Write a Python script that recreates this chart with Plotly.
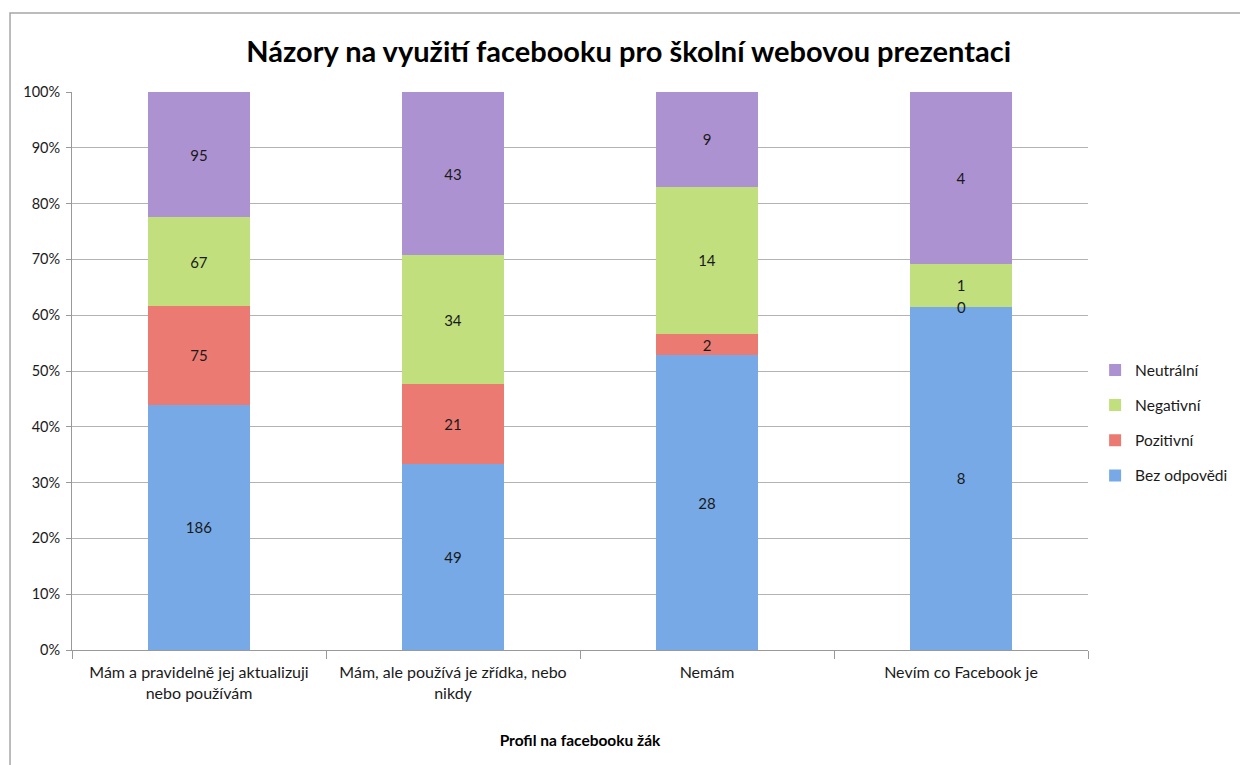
import plotly.graph_objects as go

categories = [
    "Mám a pravidelně jej aktualizuji<br>nebo používám",
    "Mám, ale používá je zřídka, nebo<br>nikdy",
    "Nemám",
    "Nevím co Facebook je",
]
series_names = ["Bez odpovědi", "Pozitivní", "Negativní", "Neutrální"]
bez_odpovedi = [186, 49, 28, 8]
pozitivni = [75, 21, 2, 0]
negativni = [67, 34, 14, 1]
neutralni = [95, 43, 9, 4]
y_tick_vals = [0, 10, 20, 30, 40, 50, 60, 70, 80, 90, 100]
y_tick_text = ["0%", "10%", "20%", "30%", "40%", "50%", "60%", "70%", "80%", "90%", "100%"]

series_values = [bez_odpovedi, pozitivni, negativni, neutralni]
colors = ["#76a9e6", "#eb7a73", "#c2df7e", "#ad92d1"]
FONT = "Lato"

fig = go.Figure()
n = len(series_names)
for k, (name, vals, col) in enumerate(zip(series_names, series_values, colors)):
    fig.add_trace(go.Bar(
        name=name,
        x=categories,
        y=vals,
        text=[str(v) if v != 0 else "" for v in vals],
        texttemplate="%{text}",
        textposition="inside",
        insidetextanchor="middle",
        constraintext="none",
        textangle=0,
        textfont=dict(family=FONT, size=15, color="#1a1a1a"),
        marker=dict(color=col, line=dict(width=0)),
        width=0.4,
        legendgroup=name,
        legendrank=n - k,
        hoverinfo="skip",
    ))

# labels for zero-valued segments (no visible bar)
annotations = []
totals = [sum(s[i] for s in series_values) for i in range(len(categories))]
for i, cat in enumerate(categories):
    cum = 0
    for vals in series_values:
        if vals[i] == 0:
            annotations.append(dict(
                x=cat, y=cum / totals[i] * 100, xref="x", yref="y",
                text="0", showarrow=False,
                font=dict(family=FONT, size=15, color="#1a1a1a"),
            ))
        cum += vals[i]

# outer chart frame
fig.add_shape(type="rect", xref="paper", yref="paper",
              x0=-0.061, x1=1.2, y0=-0.3, y1=1.1416,
              line=dict(color="#a6a6a6", width=1.5), layer="below")

fig.update_layout(
    barmode="stack",
    barnorm="percent",
    width=1240,
    height=765,
    paper_bgcolor="white",
    plot_bgcolor="white",
    margin=dict(l=72, r=152, t=92, b=115, autoexpand=False),
    font=dict(family=FONT, color="#1a1a1a"),
    title=dict(
        text="<b>Názory na využití facebooku pro školní webovou prezentaci</b>",
        x=0.507, xanchor="center", xref="container",
        y=0.932, yanchor="middle", yref="container",
        font=dict(family=FONT, size=29, color="#000000"),
    ),
    xaxis=dict(
        showgrid=False, automargin=False,
        showline=True, linecolor="#999999", linewidth=1,
        ticks="outside", tickson="boundaries", ticklen=8, tickcolor="#999999",
        ticklabelstandoff=8,
        tickfont=dict(family=FONT, size=16, color="#1a1a1a"),
        title=dict(text="<b>Profil na facebooku žák</b>",
                   font=dict(family=FONT, size=15.5, color="#000000"), standoff=34),
    ),
    yaxis=dict(
        range=[0, 100], automargin=False,
        tickvals=y_tick_vals, ticktext=y_tick_text,
        showgrid=True, gridcolor="#b3b3b3", gridwidth=1,
        showline=True, linecolor="#999999", linewidth=1,
        ticks="outside", ticklen=5, tickcolor="#999999",
        ticklabelstandoff=3,
        tickfont=dict(family=FONT, size=14.5, color="#1a1a1a"),
        zeroline=False,
    ),
    legend=dict(
        x=1.007, xanchor="left", y=0.407, yanchor="middle",
        traceorder="grouped",
        tracegroupgap=12,
        font=dict(family=FONT, size=15.5, color="#1a1a1a"),
    ),
    annotations=annotations,
)

fig.write_html("out.html", config={"displayModeBar": False},
               post_script="document.body.style.margin='0';")
